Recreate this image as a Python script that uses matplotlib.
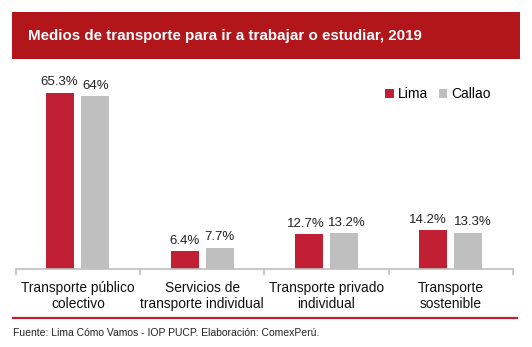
import matplotlib
matplotlib.use("Agg")
import matplotlib.pyplot as plt
import numpy as np
from matplotlib.patches import Rectangle
from matplotlib.lines import Line2D

plt.rcParams['font.family'] = ['Liberation Sans', 'DejaVu Sans']

categories = ["Transporte público\ncolectivo", "Servicios de\ntransporte individual",
              "Transporte privado\nindividual", "Transporte\nsostenible"]
lima = [65.3, 6.4, 12.7, 14.2]
callao = [64.0, 7.7, 13.2, 13.3]
lima_labels = ["65.3%", "6.4%", "12.7%", "14.2%"]
callao_labels = ["64%", "7.7%", "13.2%", "13.3%"]

title = "Medios de transporte para ir a trabajar o estudiar, 2019"
source = "Fuente: Lima Cómo Vamos - IOP PUCP. Elaboración: ComexPerú."

RED = "#C01F34"
GRAY = "#BFBFBF"
BANNER = "#B2161A"

# small sideways nudges (points) that keep neighbouring value labels apart
lima_nudge = [-1.0, 0.0, -2.2, -4.0]
callao_nudge = [0.0, 0.0, 2.2, 3.0]

W, H = 532, 347
fig = plt.figure(figsize=(W / 100, H / 100), dpi=100)

# title banner
fig.patches.append(Rectangle((12 / W, 1 - 59 / H), 508 / W, 46.5 / H,
                             transform=fig.transFigure, facecolor=BANNER,
                             edgecolor="none", zorder=0))
fig.text(27.5 / W, 1 - 36 / H, title, color="white", fontsize=10.9,
         fontweight="bold", va="center", ha="left")

ax_l, ax_r, ax_b, ax_t = 15.7, 513, 268.5, 80
ax = fig.add_axes([ax_l / W, 1 - ax_b / H, (ax_r - ax_l) / W, (ax_b - ax_t) / H])
x = np.arange(len(categories))
off, bw = 0.141, 0.225
b1 = ax.bar(x - off, lima, bw, color=RED, label="Lima")
b2 = ax.bar(x + off, callao, bw, color=GRAY, label="Callao")

for xi, v, t, dx in zip(x, lima, lima_labels, lima_nudge):
    ax.annotate(t, (xi - off, v), xytext=(dx, 3.2), textcoords="offset points",
                ha="center", va="bottom", fontsize=9.5, color="#222222")
for xi, v, t, dx in zip(x, callao, callao_labels, callao_nudge):
    ax.annotate(t, (xi + off, v), xytext=(dx, 3.2), textcoords="offset points",
                ha="center", va="bottom", fontsize=9.5, color="#222222")

ax.set_xlim(-0.5, len(categories) - 0.5)
ax.set_ylim(0, 70)
ax.set_yticks([])
for s in ["top", "right", "left"]:
    ax.spines[s].set_visible(False)
ax.spines["bottom"].set_color(GRAY)
ax.spines["bottom"].set_linewidth(1.2)

ax.set_xticks(np.arange(-0.5, len(categories), 1.0))
ax.set_xticklabels([])
ax.tick_params(axis="x", length=4, width=1.2, color=GRAY)
for xi, c in zip(x, categories):
    ax.text(xi, -4.6, c, ha="center", va="top", fontsize=9.9, color="#111111",
            linespacing=1.2)

leg_x = (377 - ax_l) / (ax_r - ax_l)
ax.legend(handles=[b1, b2], loc="upper left", bbox_to_anchor=(leg_x, 1.006),
          frameon=False, fontsize=10, handlelength=0.6, handleheight=0.6,
          handletextpad=0.3, columnspacing=0.75, ncol=2, borderaxespad=0.2)

# bottom rule and source note
fig.add_artist(Line2D([13 / W, 517 / W], [1 - 318 / H, 1 - 318 / H],
                      transform=fig.transFigure, color=RED, linewidth=1.6))
fig.text(13.3 / W, 1 - 332.5 / H, source, fontsize=7.47, color="#222222",
         va="center", ha="left")

fig.savefig("out.png", dpi=100)
